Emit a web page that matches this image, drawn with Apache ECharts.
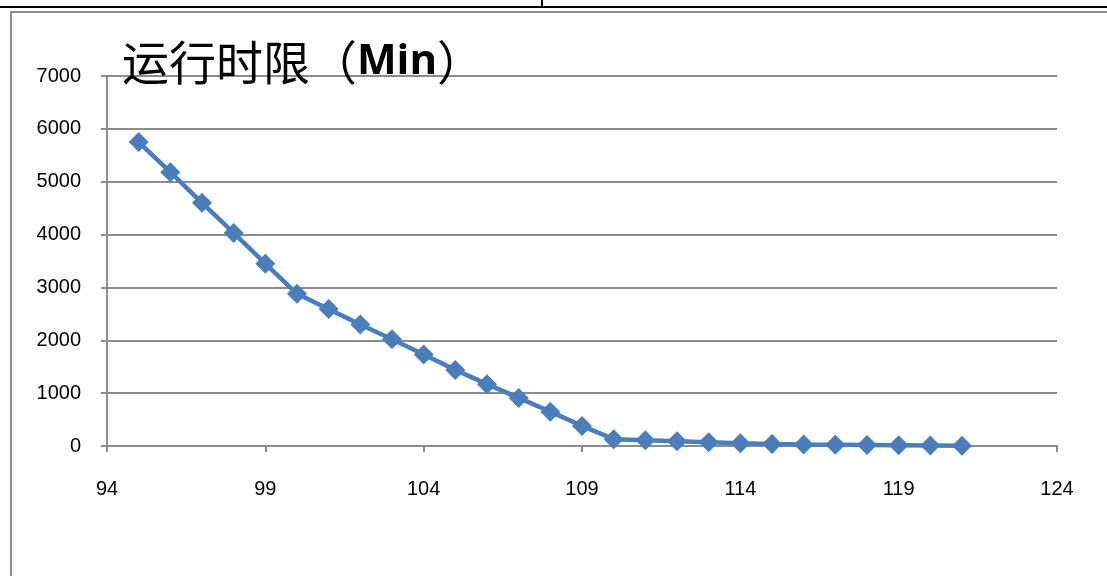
<!DOCTYPE html>
<html><head><meta charset="utf-8">
<script src="https://cdn.jsdelivr.net/npm/echarts@6/dist/echarts.min.js"></script>
<style>
html,body{margin:0;padding:0;background:#fff;}
#c{width:1107px;height:576px;}
</style></head><body>
<div id="c"></div>
<script>
const xValues = [95,96,97,98,99,100,101,102,103,104,105,106,107,108,109,110,111,112,113,114,115,116,117,118,119,120,121];
const yValues = [5750,5180,4600,4030,3450,2880,2590,2300,2020,1730,1440,1170,910,650,380,130,110,90,70,50,38,30,25,20,15,10,5];
const titleMain = '运行时限（';
const titleUnit = 'Min';
const titleEnd = '）';

const chart = echarts.init(document.getElementById('c'), null, {renderer:'canvas'});
const axisFont = '"Liberation Sans Narrow","Liberation Sans",Arial,sans-serif';
chart.setOption({
  animation:false,
  backgroundColor:'#fff',
  graphic:[
    {type:'line', shape:{x1:0,y1:7,x2:1107,y2:7}, style:{stroke:'#000',lineWidth:2}},
    {type:'line', shape:{x1:542,y1:0,x2:542,y2:7}, style:{stroke:'#000',lineWidth:2}},
    {type:'line', shape:{x1:10,y1:12,x2:1107,y2:12}, style:{stroke:'#8c8c8c',lineWidth:2}},
    {type:'line', shape:{x1:11,y1:12,x2:11,y2:576}, style:{stroke:'#8c8c8c',lineWidth:2}}
  ],
  title:{
    text:'{a|'+titleMain+'}{b|'+titleUnit+'}{a|'+titleEnd+'}',
    left:117, top:34,
    textStyle:{
      fontWeight:'normal',
      rich:{
        a:{fontSize:47,fontWeight:'normal',fontFamily:'"Noto Sans CJK SC",sans-serif',color:'#000'},
        b:{fontSize:42,fontWeight:'bold',fontFamily:'"Open Sans","Noto Sans",sans-serif',color:'#000'}
      }
    }
  },
  grid:{left:107,right:50,top:76,bottom:130,containLabel:false},
  xAxis:{
    type:'value', min:94, max:124, interval:5,
    axisLine:{show:true,lineStyle:{color:'#8c8c8c',width:2}},
    axisTick:{show:true,length:6,lineStyle:{color:'#8c8c8c',width:2}},
    splitLine:{show:false},
    axisLabel:{fontSize:20,color:'#000',margin:33,fontFamily:axisFont}
  },
  yAxis:{
    type:'value', min:0, max:7000, interval:1000,
    axisLine:{show:true,lineStyle:{color:'#8c8c8c',width:2}},
    axisTick:{show:true,length:6,lineStyle:{color:'#8c8c8c',width:2}},
    splitLine:{show:true,lineStyle:{color:'#8c8c8c',width:2}},
    axisLabel:{fontSize:20,color:'#000',margin:26,fontFamily:axisFont,formatter:v=>String(v)}
  },
  series:[{
    type:'line',
    data:xValues.map((x,i)=>[x,yValues[i]]),
    symbol:'diamond', symbolSize:20,
    lineStyle:{color:'#4a7ebb',width:4.5},
    itemStyle:{color:'#4a7ebb'}
  }]
});
</script>
</body></html>
